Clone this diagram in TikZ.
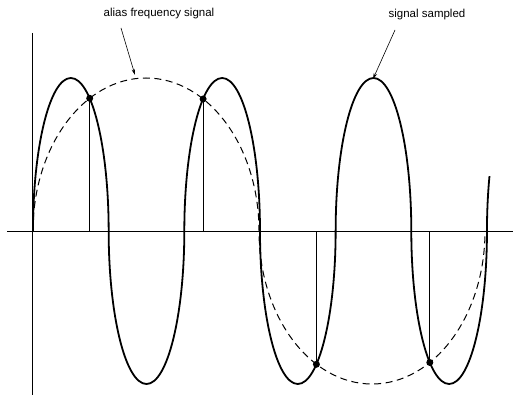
\documentclass[tikz,border=0pt]{standalone}
\usepackage{fontspec}
\setmainfont{Liberation Sans}
\usetikzlibrary{arrows.meta}
\begin{document}
\begin{tikzpicture}[x=1pt,y=1pt,
  axisline/.style={line width=0.9pt},
  sigline/.style={line width=1.8pt},
  aliasline/.style={line width=1pt,dash pattern=on 7pt off 4.5pt},
  sampleline/.style={line width=0.8pt},
  sampledot/.style={fill=black,circle,inner sep=0pt,minimum size=7pt},
  lbl/.style={font=\fontsize{11.5}{13}\selectfont,inner sep=1pt},
  pointer/.style={line width=0.6pt,-{Stealth[length=6pt,width=3.5pt]}}]
\useasboundingbox (0,0) rectangle (513,398);
% axes
\coordinate (yt) at (32,365);
\coordinate (yb) at (32,3);
\coordinate (xl) at (7,167);
\coordinate (xr) at (513,167);
\draw[axisline] (yt) -- (yb);
\draw[axisline] (xl) -- (xr);
% alias (dashed)
\draw[aliasline] (33,167)
  arc[start angle=180,end angle=0,x radius=113,y radius=153]
  arc[start angle=180,end angle=360,x radius=113,y radius=153];
% signal (solid)
\draw[sigline] (33,167)
  arc[start angle=180,end angle=0,x radius=37.83,y radius=153]
  arc[start angle=180,end angle=360,x radius=37.83,y radius=153]
  arc[start angle=180,end angle=0,x radius=37.83,y radius=153]
  arc[start angle=180,end angle=360,x radius=37.83,y radius=153]
  arc[start angle=180,end angle=0,x radius=37.83,y radius=153]
  arc[start angle=180,end angle=360,x radius=37.83,y radius=153]
  arc[start angle=180,end angle=159,x radius=37.83,y radius=153];
% samples
\coordinate (s1) at (89.7,299.7);
\coordinate (s2) at (203.1,299.0);
\coordinate (s3) at (316.4,33.7);
\coordinate (s4) at (429.8,35.5);
\foreach \i in {1,2,3,4}{
  \coordinate (b\i) at (s\i |- xl);
  \draw[sampleline] (s\i) -- (b\i);
  \node[sampledot] (d\i) at (s\i) {};
}
% labels
\node[lbl] (lab1) at (159,384) {alias frequency signal};
\node[lbl] (lab2) at (427,383) {signal sampled};
\coordinate (p1s) at (121,370);
\coordinate (p1e) at (135,323);
\coordinate (p2s) at (395,368);
\coordinate (p2e) at (373,319);
\draw[pointer] (p1s) -- (p1e);
\draw[pointer] (p2s) -- (p2e);
\end{tikzpicture}
\end{document}
